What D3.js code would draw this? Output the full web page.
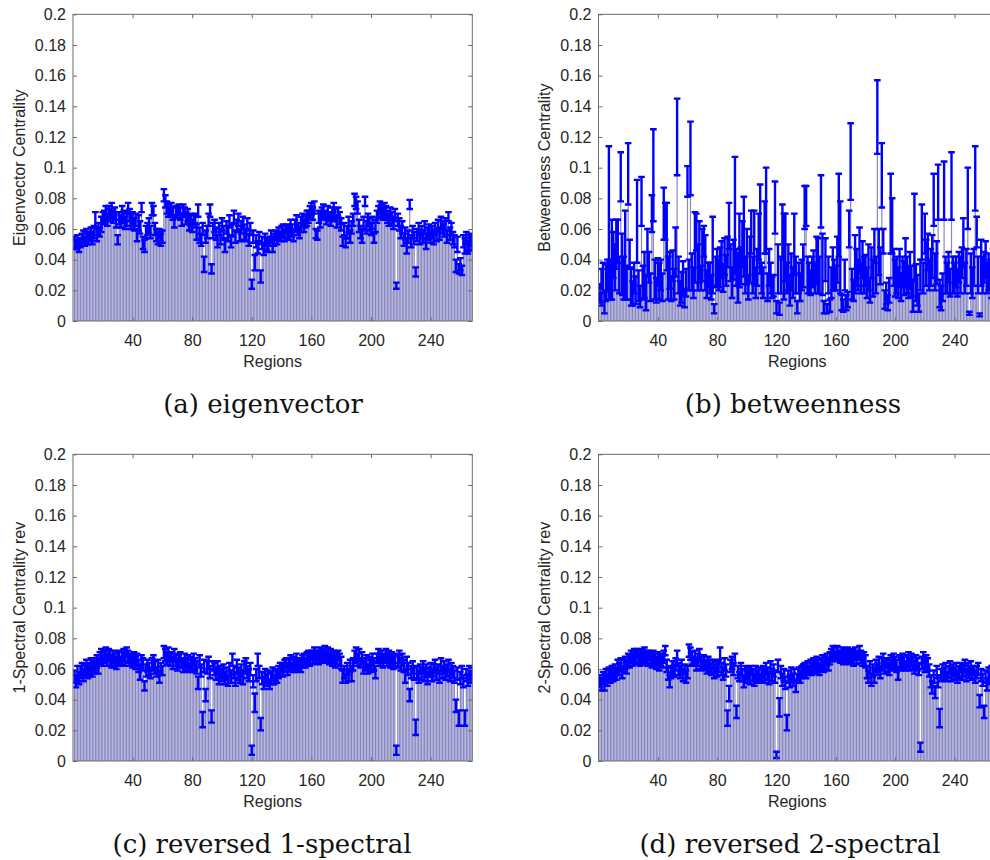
<!DOCTYPE html>
<html><head><meta charset="utf-8">
<script src="https://cdn.jsdelivr.net/npm/d3@7/dist/d3.min.js"></script>
<style>
body{margin:0;background:#fff;}
svg{display:block;}
</style></head><body>
<svg id="chart" width="990" height="860"></svg>
<script>
// ---------------- DATA ----------------
const regionCount = 268;
const xTicks = [40, 80, 120, 160, 200, 240];
const yTicks = [0, 0.02, 0.04, 0.06, 0.08, 0.1, 0.12, 0.14, 0.16, 0.18, 0.2];
const yLabels = ["Eigenvector Centrality", "Betweenness Centrality", "1-Spectral Centrality rev", "2-Spectral Centrality rev"];
const captions = ["(a) eigenvector", "(b) betweenness", "(c) reversed 1-spectral", "(d) reversed 2-spectral"];

const eigMean = [
0.051,0.050,0.052,0.049,0.051,0.053,0.055,0.052,0.056,0.054,
0.055,0.057,0.054,0.058,0.066,0.056,0.060,0.058,0.063,0.067,
0.068,0.070,0.066,0.071,0.069,0.072,0.068,0.070,0.066,0.053,
0.067,0.065,0.070,0.068,0.064,0.066,0.074,0.069,0.065,0.067,
0.063,0.066,0.056,0.064,0.061,0.074,0.051,0.049,0.058,0.060,
0.062,0.058,0.073,0.072,0.060,0.056,0.054,0.057,0.053,0.055,
0.082,0.078,0.074,0.072,0.071,0.073,0.070,0.065,0.072,0.071,
0.073,0.070,0.066,0.072,0.071,0.067,0.069,0.064,0.066,0.062,
0.065,0.067,0.058,0.072,0.056,0.053,0.060,0.037,0.055,0.058,
0.066,0.072,0.034,0.059,0.062,0.057,0.052,0.060,0.055,0.063,
0.058,0.049,0.061,0.057,0.065,0.052,0.059,0.068,0.055,0.062,
0.066,0.056,0.061,0.064,0.058,0.056,0.063,0.053,0.060,0.024,
0.055,0.038,0.052,0.048,0.054,0.029,0.051,0.047,0.053,0.050,
0.049,0.052,0.055,0.050,0.053,0.056,0.054,0.057,0.055,0.058,
0.059,0.056,0.060,0.058,0.057,0.061,0.059,0.056,0.062,0.064,
0.060,0.058,0.063,0.066,0.062,0.065,0.067,0.068,0.071,0.073,
0.070,0.074,0.057,0.056,0.068,0.066,0.070,0.072,0.069,0.067,
0.071,0.068,0.066,0.070,0.072,0.069,0.065,0.071,0.067,0.063,
0.052,0.060,0.051,0.058,0.063,0.055,0.061,0.066,0.079,0.077,
0.074,0.062,0.058,0.055,0.064,0.078,0.061,0.066,0.063,0.060,
0.064,0.054,0.062,0.068,0.071,0.074,0.072,0.070,0.073,0.071,
0.068,0.066,0.070,0.067,0.064,0.069,0.023,0.066,0.063,0.058,
0.061,0.053,0.057,0.049,0.055,0.076,0.052,0.058,0.054,0.032,
0.056,0.060,0.054,0.058,0.055,0.061,0.052,0.057,0.059,0.055,
0.058,0.054,0.060,0.056,0.062,0.057,0.064,0.061,0.059,0.063,
0.055,0.068,0.057,0.060,0.054,0.052,0.036,0.050,0.034,0.037,
0.033,0.052,0.049,0.054,0.048,0.051,0.053,0.050];
const eigStd = [
.004,.003,.004,.004,.003,.004,.004,.003,.004,.004,
.003,.004,.004,.004,.005,.004,.004,.003,.005,.004,
.004,.005,.004,.004,.004,.005,.004,.004,.005,.003,
.004,.004,.005,.004,.004,.004,.003,.004,.005,.004,
.004,.004,.004,.005,.004,.003,.004,.004,.004,.004,
.005,.004,.004,.003,.004,.004,.004,.003,.004,.004,
.004,.004,.004,.004,.003,.004,.004,.004,.003,.004,
.003,.004,.004,.004,.003,.004,.004,.005,.004,.004,
.004,.003,.005,.004,.005,.004,.004,.005,.004,.004,
.004,.004,.003,.005,.004,.004,.004,.004,.005,.004,
.004,.004,.004,.005,.004,.004,.004,.004,.004,.004,
.004,.004,.004,.004,.005,.004,.004,.004,.004,.003,
.004,.005,.004,.004,.004,.004,.004,.004,.004,.004,
.004,.003,.004,.005,.004,.003,.004,.004,.003,.004,
.004,.004,.003,.004,.004,.005,.004,.004,.004,.005,
.004,.004,.005,.004,.004,.004,.005,.004,.004,.004,
.004,.004,.003,.003,.004,.005,.004,.004,.003,.004,
.004,.003,.004,.004,.005,.004,.004,.003,.004,.004,
.003,.004,.003,.004,.005,.004,.004,.004,.004,.004,
.004,.004,.004,.004,.004,.003,.004,.004,.004,.004,
.004,.003,.004,.004,.004,.004,.004,.004,.004,.004,
.004,.004,.004,.004,.004,.004,.002,.004,.004,.004,
.004,.004,.004,.005,.004,.003,.004,.004,.004,.003,
.004,.004,.004,.004,.004,.004,.005,.004,.004,.004,
.004,.004,.004,.004,.004,.004,.004,.004,.004,.004,
.004,.003,.004,.004,.004,.004,.004,.005,.003,.004,
.003,.004,.005,.004,.004,.005,.004,.004];

const betMean = [
0.018,0.022,0.028,0.012,0.025,0.030,0.064,0.027,0.040,0.043,
0.035,0.050,0.052,0.030,0.094,0.037,0.028,0.043,0.025,0.096,
0.044,0.022,0.018,0.028,0.020,0.065,0.023,0.016,0.078,0.025,
0.030,0.018,0.045,0.035,0.022,0.070,0.095,0.027,0.020,0.032,
0.026,0.030,0.022,0.070,0.065,0.055,0.028,0.033,0.021,0.036,
0.024,0.045,0.120,0.030,0.018,0.022,0.028,0.015,0.025,0.091,
0.030,0.106,0.032,0.025,0.048,0.058,0.035,0.045,0.028,0.043,
0.052,0.038,0.024,0.030,0.028,0.022,0.043,0.008,0.032,0.035,
0.030,0.035,0.040,0.028,0.042,0.033,0.045,0.062,0.038,0.025,
0.040,0.069,0.035,0.028,0.046,0.036,0.050,0.055,0.030,0.042,
0.022,0.040,0.058,0.030,0.048,0.025,0.035,0.055,0.060,0.028,
0.025,0.061,0.072,0.022,0.035,0.028,0.022,0.023,0.074,0.009,
0.034,0.008,0.030,0.058,0.042,0.048,0.028,0.035,0.020,0.032,
0.025,0.050,0.030,0.009,0.028,0.022,0.030,0.036,0.074,0.075,
0.030,0.028,0.025,0.032,0.035,0.028,0.040,0.036,0.030,0.078,
0.037,0.009,0.040,0.008,0.030,0.010,0.025,0.034,0.030,0.028,
0.040,0.069,0.048,0.012,0.010,0.030,0.012,0.014,0.060,0.104,
0.024,0.020,0.037,0.035,0.030,0.046,0.028,0.040,0.030,0.033,
0.025,0.035,0.020,0.038,0.028,0.049,0.030,0.133,0.045,0.036,
0.095,0.052,0.014,0.018,0.012,0.020,0.070,0.062,0.035,0.028,
0.030,0.025,0.035,0.022,0.032,0.028,0.038,0.030,0.025,0.033,
0.026,0.016,0.055,0.025,0.020,0.012,0.030,0.058,0.028,0.057,
0.038,0.045,0.030,0.035,0.042,0.079,0.032,0.038,0.084,0.018,
0.015,0.022,0.085,0.030,0.028,0.035,0.025,0.088,0.030,0.028,
0.032,0.025,0.035,0.030,0.038,0.051,0.028,0.035,0.080,0.005,
0.031,0.025,0.035,0.093,0.058,0.030,0.004,0.038,0.030,0.035,
0.040,0.028,0.032,0.030,0.025,0.035,0.028,0.030];
const betStd = [
0.006,0.012,0.010,0.007,0.012,0.010,0.050,0.013,0.026,0.015,
0.015,0.016,0.014,0.012,0.016,0.020,0.014,0.029,0.011,0.020,
0.009,0.012,0.008,0.010,0.009,0.027,0.010,0.007,0.016,0.011,
0.015,0.011,0.015,0.010,0.009,0.012,0.030,0.013,0.008,0.009,
0.012,0.010,0.009,0.017,0.012,0.022,0.014,0.012,0.008,0.010,
0.010,0.016,0.025,0.012,0.008,0.010,0.011,0.006,0.009,0.010,
0.010,0.024,0.012,0.010,0.023,0.012,0.015,0.020,0.008,0.017,
0.010,0.018,0.009,0.008,0.010,0.008,0.025,0.003,0.010,0.012,
0.010,0.013,0.012,0.009,0.012,0.010,0.010,0.015,0.012,0.010,
0.013,0.038,0.012,0.016,0.024,0.012,0.015,0.026,0.012,0.018,
0.008,0.015,0.014,0.012,0.024,0.010,0.012,0.015,0.029,0.010,
0.010,0.017,0.028,0.009,0.012,0.010,0.007,0.007,0.017,0.004,
0.016,0.004,0.012,0.018,0.028,0.022,0.010,0.015,0.010,0.012,
0.010,0.020,0.012,0.004,0.010,0.009,0.010,0.014,0.014,0.013,
0.012,0.010,0.008,0.010,0.011,0.010,0.015,0.018,0.012,0.017,
0.020,0.004,0.014,0.003,0.012,0.004,0.010,0.014,0.010,0.008,
0.015,0.027,0.030,0.005,0.004,0.010,0.005,0.005,0.012,0.025,
0.010,0.007,0.019,0.012,0.010,0.015,0.010,0.012,0.012,0.010,
0.010,0.015,0.008,0.010,0.012,0.011,0.012,0.024,0.015,0.012,
0.021,0.008,0.006,0.007,0.005,0.008,0.026,0.018,0.012,0.012,
0.012,0.010,0.012,0.009,0.010,0.011,0.016,0.012,0.010,0.012,
0.010,0.010,0.028,0.012,0.010,0.006,0.010,0.018,0.010,0.013,
0.015,0.012,0.010,0.012,0.014,0.017,0.012,0.014,0.018,0.009,
0.008,0.009,0.019,0.012,0.010,0.010,0.009,0.022,0.012,0.010,
0.010,0.009,0.010,0.012,0.010,0.016,0.010,0.012,0.020,0.001,
0.013,0.010,0.012,0.021,0.010,0.012,0.001,0.015,0.012,0.010,
0.012,0.010,0.012,0.010,0.010,0.012,0.010,0.010];

const spec1Mean = [
0.055,0.052,0.057,0.054,0.058,0.060,0.056,0.059,0.061,0.058,
0.060,0.062,0.059,0.063,0.061,0.065,0.062,0.067,0.069,0.066,
0.068,0.070,0.066,0.069,0.067,0.065,0.068,0.066,0.064,0.067,
0.068,0.065,0.067,0.069,0.066,0.071,0.068,0.066,0.067,0.065,
0.067,0.064,0.066,0.062,0.058,0.065,0.063,0.049,0.059,0.062,
0.060,0.057,0.063,0.065,0.061,0.058,0.062,0.055,0.060,0.059,
0.071,0.069,0.067,0.070,0.066,0.068,0.064,0.069,0.066,0.063,
0.065,0.067,0.064,0.062,0.066,0.063,0.065,0.061,0.064,0.062,
0.066,0.063,0.061,0.051,0.065,0.059,0.027,0.062,0.043,0.061,
0.064,0.058,0.029,0.062,0.060,0.057,0.061,0.055,0.058,0.056,
0.059,0.054,0.057,0.052,0.060,0.055,0.066,0.058,0.053,0.062,
0.057,0.055,0.059,0.054,0.061,0.063,0.058,0.056,0.060,0.007,
0.052,0.038,0.056,0.066,0.058,0.024,0.054,0.051,0.056,0.053,
0.055,0.050,0.054,0.057,0.053,0.056,0.055,0.058,0.060,0.061,
0.059,0.062,0.064,0.060,0.063,0.065,0.061,0.064,0.062,0.066,
0.063,0.064,0.062,0.065,0.066,0.064,0.067,0.068,0.066,0.069,
0.067,0.070,0.068,0.069,0.067,0.070,0.068,0.069,0.071,0.068,
0.070,0.067,0.069,0.066,0.068,0.065,0.067,0.069,0.066,0.064,
0.055,0.058,0.054,0.060,0.056,0.062,0.057,0.063,0.068,0.070,
0.066,0.069,0.064,0.067,0.061,0.063,0.065,0.060,0.064,0.062,
0.066,0.063,0.058,0.067,0.069,0.066,0.068,0.065,0.067,0.069,
0.066,0.068,0.065,0.067,0.064,0.066,0.007,0.065,0.068,0.063,
0.066,0.062,0.055,0.064,0.060,0.043,0.058,0.061,0.057,0.022,
0.058,0.055,0.060,0.057,0.061,0.056,0.059,0.054,0.058,0.060,
0.056,0.059,0.062,0.057,0.060,0.055,0.063,0.058,0.061,0.057,
0.059,0.062,0.056,0.060,0.058,0.055,0.036,0.057,0.028,0.054,
0.058,0.052,0.028,0.056,0.053,0.058,0.055,0.057];
const spec1Std = [
.004,.004,.005,.004,.004,.004,.004,.004,.005,.004,
.004,.005,.004,.004,.004,.004,.005,.004,.004,.004,
.004,.004,.004,.004,.005,.004,.004,.004,.004,.004,
.004,.003,.004,.004,.004,.003,.004,.004,.003,.004,
.004,.004,.004,.004,.005,.004,.004,.003,.004,.004,
.004,.003,.004,.004,.004,.003,.004,.004,.004,.003,
.004,.004,.004,.004,.004,.003,.004,.004,.004,.004,
.004,.004,.003,.004,.004,.004,.004,.003,.004,.004,
.004,.004,.004,.004,.004,.004,.005,.004,.004,.004,
.004,.004,.004,.003,.004,.004,.004,.005,.004,.004,
.004,.004,.004,.003,.004,.004,.004,.004,.004,.004,
.004,.004,.004,.004,.004,.004,.004,.004,.004,.003,
.004,.006,.004,.004,.004,.004,.004,.004,.004,.004,
.004,.003,.004,.004,.003,.004,.004,.004,.004,.003,
.004,.004,.003,.004,.004,.004,.003,.004,.004,.004,
.004,.003,.004,.004,.004,.003,.004,.004,.004,.003,
.004,.004,.004,.003,.004,.004,.004,.004,.004,.004,
.004,.004,.004,.004,.004,.004,.004,.003,.004,.004,
.004,.004,.003,.004,.004,.004,.005,.004,.004,.004,
.004,.004,.003,.004,.004,.004,.004,.003,.004,.004,
.004,.004,.004,.003,.004,.004,.004,.004,.003,.004,
.004,.004,.004,.004,.004,.004,.003,.004,.004,.004,
.004,.004,.004,.004,.004,.004,.004,.004,.004,.005,
.004,.004,.003,.004,.004,.004,.004,.004,.003,.004,
.004,.004,.004,.004,.003,.004,.004,.004,.004,.004,
.004,.004,.004,.004,.004,.004,.004,.004,.005,.004,
.004,.004,.005,.004,.004,.004,.004,.004];

const spec2Mean = [
0.052,0.050,0.054,0.051,0.056,0.053,0.057,0.055,0.058,0.056,
0.059,0.057,0.061,0.060,0.063,0.058,0.062,0.064,0.061,0.066,
0.065,0.068,0.066,0.069,0.067,0.070,0.068,0.066,0.069,0.067,
0.070,0.068,0.066,0.069,0.067,0.065,0.068,0.066,0.064,0.067,
0.063,0.066,0.065,0.068,0.072,0.062,0.057,0.052,0.058,0.061,
0.059,0.063,0.067,0.060,0.058,0.062,0.056,0.060,0.055,0.058,
0.072,0.070,0.067,0.065,0.068,0.063,0.066,0.069,0.064,0.062,
0.065,0.063,0.061,0.064,0.062,0.060,0.063,0.058,0.061,0.059,
0.062,0.069,0.060,0.057,0.063,0.059,0.028,0.044,0.062,0.064,
0.060,0.066,0.032,0.058,0.055,0.060,0.056,0.052,0.058,0.055,
0.057,0.054,0.059,0.056,0.053,0.058,0.055,0.057,0.054,0.056,
0.058,0.055,0.060,0.057,0.054,0.061,0.056,0.059,0.055,0.004,
0.062,0.035,0.058,0.053,0.056,0.051,0.025,0.055,0.052,0.057,
0.053,0.056,0.049,0.054,0.057,0.055,0.058,0.059,0.060,0.058,
0.061,0.059,0.062,0.060,0.063,0.061,0.064,0.062,0.060,0.063,
0.065,0.062,0.064,0.066,0.063,0.067,0.069,0.071,0.070,0.068,
0.071,0.069,0.068,0.070,0.067,0.069,0.068,0.070,0.067,0.069,
0.068,0.066,0.070,0.067,0.069,0.071,0.068,0.066,0.067,0.065,
0.058,0.055,0.061,0.053,0.059,0.056,0.062,0.060,0.064,0.058,
0.063,0.066,0.061,0.064,0.062,0.060,0.065,0.063,0.066,0.064,
0.062,0.057,0.065,0.063,0.066,0.064,0.062,0.065,0.067,0.063,
0.066,0.064,0.061,0.065,0.063,0.060,0.009,0.064,0.067,0.062,
0.065,0.063,0.059,0.052,0.048,0.055,0.045,0.058,0.052,0.028,
0.056,0.059,0.057,0.060,0.055,0.058,0.061,0.056,0.059,0.057,
0.060,0.055,0.058,0.061,0.057,0.059,0.062,0.056,0.060,0.058,
0.061,0.057,0.059,0.055,0.058,0.060,0.039,0.056,0.053,0.032,
0.055,0.050,0.057,0.054,0.058,0.052,0.056,0.055];
const spec2Std = [
.004,.004,.004,.005,.004,.004,.004,.004,.004,.004,
.004,.004,.005,.004,.004,.004,.004,.004,.004,.004,
.004,.004,.004,.004,.004,.003,.004,.004,.004,.004,
.004,.004,.004,.003,.004,.004,.004,.004,.004,.004,
.004,.004,.004,.004,.003,.004,.004,.004,.004,.004,
.004,.004,.005,.004,.004,.004,.004,.003,.004,.004,
.004,.004,.004,.003,.004,.004,.004,.004,.004,.003,
.004,.003,.004,.004,.004,.004,.003,.004,.004,.004,
.004,.005,.004,.004,.004,.004,.005,.005,.004,.004,
.004,.004,.004,.004,.003,.004,.004,.004,.004,.004,
.004,.004,.003,.004,.004,.004,.004,.004,.003,.004,
.004,.004,.004,.004,.004,.004,.004,.004,.004,.002,
.004,.006,.004,.004,.004,.004,.005,.004,.004,.004,
.004,.004,.004,.003,.004,.004,.004,.004,.004,.004,
.004,.003,.004,.004,.004,.004,.004,.004,.004,.004,
.004,.004,.004,.004,.004,.004,.004,.004,.004,.003,
.004,.003,.004,.004,.004,.004,.004,.004,.004,.004,
.004,.004,.004,.004,.003,.004,.004,.004,.004,.004,
.004,.004,.004,.004,.004,.005,.004,.004,.004,.004,
.004,.004,.004,.003,.004,.004,.004,.004,.004,.004,
.004,.004,.004,.004,.004,.004,.003,.004,.004,.004,
.004,.004,.004,.004,.004,.004,.003,.004,.004,.004,
.004,.004,.004,.004,.004,.004,.004,.004,.004,.006,
.004,.004,.004,.004,.003,.004,.004,.004,.004,.004,
.004,.004,.004,.003,.004,.004,.004,.004,.004,.004,
.004,.004,.003,.004,.004,.004,.004,.004,.004,.004,
.004,.004,.004,.004,.004,.004,.004,.004];

// ---------------- LAYOUT ----------------
const panels = [
  {mean: eigMean,   std: eigStd,   left: 73,    top: 14.3,  width: 399.3, label: yLabels[0], cap: captions[0], capX: 263, capY: 413, labX: 25},
  {mean: betMean,   std: betStd,   left: 598.5, top: 14.3,  width: 397.5, label: yLabels[1], cap: captions[1], capX: 793, capY: 413, labX: 550},
  {mean: spec1Mean, std: spec1Std, left: 73,    top: 454.3, width: 399.3, label: yLabels[2], cap: captions[2], capX: 262, capY: 853, labX: 25},
  {mean: spec2Mean, std: spec2Std, left: 598.5, top: 454.3, width: 397.5, label: yLabels[3], cap: captions[3], capX: 790, capY: 853, labX: 550}
];
const plotH = 306.7;
const font = "'Liberation Sans', Arial, Helvetica, sans-serif";
const textColor = "#262626";
const axisColor = "#6b6b6b";

const svg = d3.select("#chart");
const defs = svg.append("defs");

panels.forEach((p, i) => {
  const regions = d3.range(1, regionCount + 1);
  const x = d3.scaleLinear().domain([0, regionCount]).range([0, p.width]);
  const y = d3.scaleLinear().domain([0, 0.2]).range([plotH, 0]);
  const g = svg.append("g").attr("transform", `translate(${p.left},${p.top})`);

  defs.append("clipPath").attr("id", "clip" + i)
    .append("rect").attr("x", 0).attr("y", 0).attr("width", p.width).attr("height", plotH);

  const plot = g.append("g").attr("clip-path", `url(#clip${i})`);
  const bw = x(0.8) - x(0);

  // bars
  plot.append("g").selectAll("rect").data(regions).join("rect")
    .attr("x", d => x(d) - bw / 2)
    .attr("width", bw)
    .attr("y", (d, k) => y(p.mean[k]))
    .attr("height", (d, k) => y(0) - y(p.mean[k]))
    .attr("fill", "#8686c2");

  // error bars
  const eb = plot.append("g").attr("stroke", "#0000ff").attr("stroke-width", 2.4).attr("fill", "none");
  const capW = 3.3;
  eb.selectAll("path").data(regions).join("path")
    .attr("d", (d, k) => {
      const cx = x(d), lo = y(p.mean[k] - p.std[k]), hi = y(p.mean[k] + p.std[k]);
      return `M${cx},${lo}V${hi}M${cx - capW},${hi}H${cx + capW}M${cx - capW},${lo}H${cx + capW}`;
    });

  // axes
  const fmt = d => String(+d.toFixed(2));
  const ax = [
    g.append("g").attr("transform", `translate(0,${plotH})`)
      .call(d3.axisBottom(x).tickValues(xTicks).tickSize(-4).tickSizeOuter(0).tickPadding(13.5)),
    g.append("g")
      .call(d3.axisTop(x).tickValues(xTicks).tickSize(-4).tickSizeOuter(0).tickFormat("")),
    g.append("g")
      .call(d3.axisLeft(y).tickValues(yTicks).tickSize(-4).tickSizeOuter(0).tickPadding(7).tickFormat(fmt)),
    g.append("g").attr("transform", `translate(${p.width},0)`)
      .call(d3.axisRight(y).tickValues(yTicks).tickSize(-4).tickSizeOuter(0).tickFormat(""))
  ];
  ax.forEach(a => {
    a.select(".domain").remove();
    a.selectAll("line").attr("stroke", axisColor);
    a.selectAll("text").attr("fill", textColor).style("font-family", font).style("font-size", "16px");
  });
  g.append("rect").attr("width", p.width).attr("height", plotH)
    .attr("fill", "none").attr("stroke", axisColor).attr("stroke-width", 1);

  // axis titles
  g.append("text").attr("x", (x(0) + x(regionCount)) / 2).attr("y", plotH + 46)
    .attr("text-anchor", "middle").attr("fill", textColor)
    .style("font-family", font).style("font-size", "16px").text("Regions");
  svg.append("text")
    .attr("transform", `translate(${p.labX},${p.top + plotH / 2}) rotate(-90)`)
    .attr("text-anchor", "middle").attr("fill", textColor)
    .style("font-family", font).style("font-size", "16px").text(p.label);

  // caption
  svg.append("text").attr("x", p.capX).attr("y", p.capY).attr("text-anchor", "middle")
    .attr("fill", "#111")
    .style("font-family", "'DejaVu Serif', serif").style("font-size", "26px").text(p.cap);
});
</script>
</body></html>
